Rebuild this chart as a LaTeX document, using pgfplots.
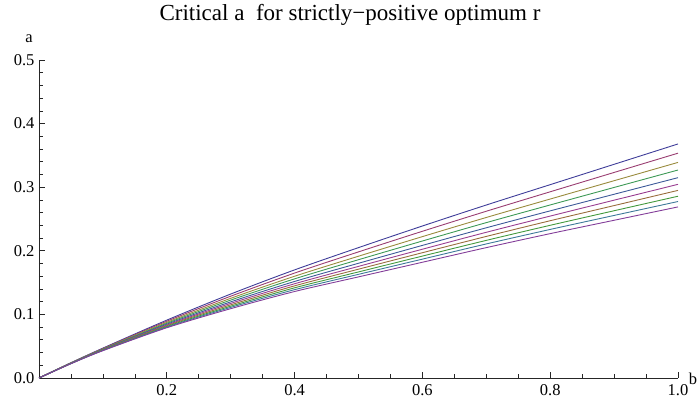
\documentclass[border=0pt]{standalone}
\usepackage{fontspec}
\setmainfont{Liberation Serif}
\usepackage{pgfplots}
\pgfplotsset{compat=1.18}
\definecolor{c1}{rgb}{0.247,0.24,0.6}
\definecolor{c2}{rgb}{0.6,0.24,0.443}
\definecolor{c3}{rgb}{0.6,0.547,0.24}
\definecolor{c4}{rgb}{0.24,0.6,0.336}
\definecolor{c5}{rgb}{0.24,0.354,0.6}
\definecolor{c6}{rgb}{0.6,0.24,0.564}
\definecolor{c7}{rgb}{0.6,0.426,0.24}
\definecolor{c8}{rgb}{0.264,0.6,0.24}
\definecolor{c9}{rgb}{0.24,0.475,0.6}
\definecolor{c10}{rgb}{0.515,0.24,0.6}
\begin{document}
\begin{tikzpicture}
\begin{axis}[
  at={(0pt,0pt)}, anchor=south west,
  scale only axis, width=639pt, height=318pt,
  xmin=0, xmax=1, ymin=0, ymax=0.5,
  axis lines=left, axis line style={-, line width=0.7pt, black!85},
  tick style={line width=0.7pt, black!85},
  tick align=inside,
  major tick length=6pt, minor tick length=4pt,
  xtick={0.2,0.4,0.6,0.8,1.0},
  xticklabels={0.2,0.4,0.6,0.8,1.0},
  minor xtick={0.05,0.1,0.15,0.25,0.3,0.35,0.45,0.5,0.55,0.65,0.7,0.75,0.85,0.9,0.95},
  ytick={0,0.1,0.2,0.3,0.4,0.5},
  yticklabels={0.0,0.1,0.2,0.3,0.4,0.5},
  minor ytick={0.02,0.04,0.06,0.08,0.12,0.14,0.16,0.18,0.22,0.24,0.26,0.28,0.32,0.34,0.36,0.38,0.42,0.44,0.46,0.48},
  ticklabel style={font=\fontsize{16.5}{19}\selectfont},
  xticklabel style={yshift=-3pt},
  yticklabel style={xshift=-1pt},
  clip=false,
  every axis plot/.append style={line width=0.9pt, smooth, no markers},
]
\addplot[c1] coordinates {(0,0) (0.05,0.0240) (0.1,0.0470) (0.2,0.0910) (0.3,0.1320) (0.4,0.1700) (0.5,0.2050) (0.6,0.2390) (0.7,0.2720) (0.8,0.3040) (0.9,0.3360) (1.0,0.3680)};
\addplot[c2] coordinates {(0,0) (0.05,0.0238) (0.1,0.0464) (0.2,0.0893) (0.3,0.1286) (0.4,0.1650) (0.5,0.1983) (0.6,0.2307) (0.7,0.2622) (0.8,0.2928) (0.9,0.3232) (1.0,0.3535)};
\addplot[c3] coordinates {(0,0) (0.05,0.0236) (0.1,0.0458) (0.2,0.0875) (0.3,0.1253) (0.4,0.1600) (0.5,0.1915) (0.6,0.2223) (0.7,0.2524) (0.8,0.2814) (0.9,0.3102) (1.0,0.3390)};
\addplot[c4] coordinates {(0,0) (0.05,0.0234) (0.1,0.0453) (0.2,0.0860) (0.3,0.1225) (0.4,0.1559) (0.5,0.1860) (0.6,0.2154) (0.7,0.2443) (0.8,0.2721) (0.9,0.2996) (1.0,0.3270)};
\addplot[c5] coordinates {(0,0) (0.05,0.0232) (0.1,0.0449) (0.2,0.0846) (0.3,0.1197) (0.4,0.1518) (0.5,0.1804) (0.6,0.2085) (0.7,0.2362) (0.8,0.2628) (0.9,0.2889) (1.0,0.3150)};
\addplot[c6] coordinates {(0,0) (0.05,0.0230) (0.1,0.0444) (0.2,0.0833) (0.3,0.1173) (0.4,0.1482) (0.5,0.1755) (0.6,0.2025) (0.7,0.2291) (0.8,0.2546) (0.9,0.2796) (1.0,0.3045)};
\addplot[c7] coordinates {(0,0) (0.05,0.0229) (0.1,0.0441) (0.2,0.0822) (0.3,0.1150) (0.4,0.1449) (0.5,0.1711) (0.6,0.1970) (0.7,0.2226) (0.8,0.2473) (0.9,0.2711) (1.0,0.2950)};
\addplot[c8] coordinates {(0,0) (0.05,0.0228) (0.1,0.0437) (0.2,0.0810) (0.3,0.1129) (0.4,0.1418) (0.5,0.1668) (0.6,0.1917) (0.7,0.2164) (0.8,0.2401) (0.9,0.2630) (1.0,0.2858)};
\addplot[c9] coordinates {(0,0) (0.05,0.0226) (0.1,0.0433) (0.2,0.0800) (0.3,0.1110) (0.4,0.1389) (0.5,0.1630) (0.6,0.1869) (0.7,0.2108) (0.8,0.2336) (0.9,0.2556) (1.0,0.2775)};
\addplot[c10] coordinates {(0,0) (0.05,0.0225) (0.1,0.0430) (0.2,0.0790) (0.3,0.1090) (0.4,0.1360) (0.5,0.1590) (0.6,0.1820) (0.7,0.2050) (0.8,0.2270) (0.9,0.2480) (1.0,0.2690)};
\end{axis}
\node[anchor=base, font=\fontsize{23}{27}\selectfont] at (311pt,357pt) {Critical a\ \ for strictly\textminus positive optimum r};
\node[anchor=base, font=\fontsize{16.5}{19}\selectfont] at (-10pt,335pt) {a};
\node[anchor=base, font=\fontsize{16.5}{19}\selectfont] at (654pt,-6pt) {b};
\pgfresetboundingbox
\useasboundingbox (-39pt,-28pt) rectangle (661pt,378pt);
\end{tikzpicture}
\end{document}
